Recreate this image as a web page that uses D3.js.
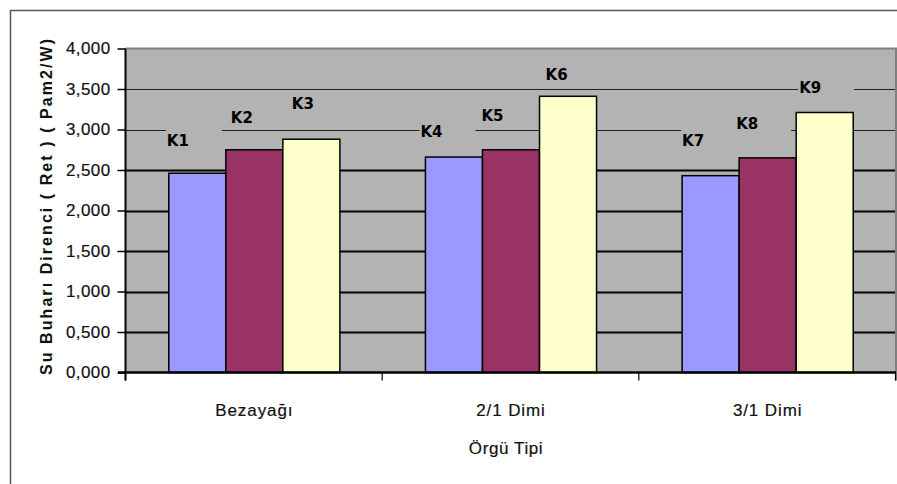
<!DOCTYPE html>
<html>
<head>
<meta charset="utf-8">
<script src="https://cdn.jsdelivr.net/npm/d3@7"></script>
<style>
  html, body { margin: 0; padding: 0; background: #fff; }
  svg { display: block; }
</style>
</head>
<body>
<svg id="chart" width="897" height="484"></svg>
<script>
// Weave types (categories) and their three fabric samples each
const categories = ["Bezayağı", "2/1 Dimi", "3/1 Dimi"];
const seriesNames = ["A", "B", "C"];
const sampleLabels = [
  ["K1", "K2", "K3"],
  ["K4", "K5", "K6"],
  ["K7", "K8", "K9"]
];
// Water vapour resistance (Ret), Pa·m²/W
const seriesA = [2.46, 2.66, 2.43];
const seriesB = [2.75, 2.75, 2.65];
const seriesC = [2.88, 3.41, 3.21];
const yTicks = [0, 0.5, 1, 1.5, 2, 2.5, 3, 3.5, 4];
const yTitle = "Su Buharı Direnci ( Ret ) ( Pam2/W)";
const xTitle = "Örgü Tipi";

// hand-placed label nudges [dx from bar left, dy above bar top], px
const labelNudge = [
  [[-2, 33], [5, 32], [9, 36]],
  [[-5, 25], [-1, 34], [6, 22]],
  [[0, 35], [-3, 34], [3, 25]]
];

const colors = ["#9999FF", "#993366", "#FFFFCC"];
const plotBg = "#B3B3B3";

const svg = d3.select("#chart");
const W = 897, H = 484;
const plot = { left: 126, right: 896, top: 48.5, bottom: 372.5 };

// outer chart frame
svg.append("rect")
  .attr("x", 10.5).attr("y", 10.5)
  .attr("width", W + 20).attr("height", H + 20)
  .attr("fill", "#fff").attr("stroke", "#555").attr("stroke-width", 1.5);

const x0 = d3.scaleBand().domain(categories).range([plot.left, plot.right]).padding(0);
const bw = x0.bandwidth() / 4.5;          // three bars plus a 150% gap
const x1 = d3.scaleBand().domain(seriesNames)
  .range([0.75 * bw, 3.75 * bw]).padding(0);
const y = d3.scaleLinear().domain([0, 4]).range([plot.bottom, plot.top]);

// plot area background
svg.append("rect")
  .attr("x", plot.left).attr("y", plot.top)
  .attr("width", plot.right - plot.left).attr("height", plot.bottom - plot.top)
  .attr("fill", plotBg);

// gridlines
svg.append("g").selectAll("line")
  .data(yTicks.filter(d => d > 0 && d < 4))
  .join("line")
  .attr("x1", plot.left).attr("x2", plot.right)
  .attr("y1", d => Math.round(y(d)) + 0.5).attr("y2", d => Math.round(y(d)) + 0.5)
  .attr("stroke", d => d > 2.5 ? "#222" : "#000")
  .attr("stroke-width", d => d > 2.5 ? 1.2 : 2);

// plot top and right border
svg.append("path")
  .attr("d", `M${plot.left},${plot.top}H${plot.right}V${plot.bottom + 8}`)
  .attr("fill", "none").attr("stroke", "#808080").attr("stroke-width", 2);

// bars
const rows = categories.map((c, i) => ({
  cat: c,
  vals: [seriesA[i], seriesB[i], seriesC[i]]
}));

const groups = svg.append("g").selectAll("g")
  .data(rows).join("g")
  .attr("transform", d => `translate(${x0(d.cat)},0)`);

groups.selectAll("rect")
  .data(d => d.vals.map((v, j) => ({ v, j })))
  .join("rect")
  .attr("x", d => x1(seriesNames[d.j]))
  .attr("y", d => y(d.v))
  .attr("width", x1.bandwidth())
  .attr("height", d => y(0) - y(d.v))
  .attr("fill", d => colors[d.j])
  .attr("stroke", "#000").attr("stroke-width", 1.5);

// sample labels with backgrounds that mask gridlines
const labG = svg.append("g");
rows.forEach((r, i) => {
  r.vals.forEach((v, j) => {
    const bx = x0(r.cat) + x1(seriesNames[j]) + labelNudge[i][j][0];
    const cy = y(v) - labelNudge[i][j][1];
    labG.append("rect")
      .attr("x", bx - 1).attr("y", cy - 12)
      .attr("width", 56).attr("height", 24)
      .attr("fill", plotBg);
    labG.append("text")
      .attr("x", bx).attr("y", cy)
      .attr("dy", "0.36em")
      .attr("font-family", "DejaVu Sans, Verdana, sans-serif")
      .attr("font-weight", "bold").attr("font-size", 15)
      .attr("fill", "#000")
      .text(sampleLabels[i][j]);
  });
});

const textStyle = sel => sel
  .attr("font-family", "Liberation Sans, Arial, sans-serif")
  .attr("fill", "#111")
  .attr("stroke", "#111").attr("stroke-width", 0.2);

// y axis
const trFmt = d3.formatLocale({ decimal: ",", thousands: ".", grouping: [3], currency: ["", ""] }).format(".3f");
const yAxis = svg.append("g")
  .attr("transform", `translate(${plot.left - 0.5},0)`)
  .call(d3.axisLeft(y).tickValues(yTicks).tickFormat(trFmt).tickSize(8).tickSizeOuter(0).tickPadding(7));
yAxis.select(".domain").attr("stroke", "#000").attr("stroke-width", 2)
  .attr("d", `M0,${plot.top}V${plot.bottom + 8}`);
yAxis.selectAll(".tick line").attr("stroke", "#000").attr("stroke-width", 1.5);
yAxis.selectAll(".tick text")
  .call(textStyle)
  .attr("font-size", 17).attr("letter-spacing", "0.4px");

// x axis
svg.append("line")
  .attr("x1", plot.left - 8).attr("x2", plot.right)
  .attr("y1", plot.bottom).attr("y2", plot.bottom)
  .attr("stroke", "#000").attr("stroke-width", 2.5);
svg.append("g").selectAll("line")
  .data(d3.range(categories.length + 1))
  .join("line")
  .attr("x1", i => plot.left + i * x0.bandwidth() - 0.5)
  .attr("x2", i => plot.left + i * x0.bandwidth() - 0.5)
  .attr("y1", plot.bottom).attr("y2", plot.bottom + 8)
  .attr("stroke", "#000").attr("stroke-width", 1.2);

svg.append("g").selectAll("text")
  .data(categories).join("text")
  .attr("x", d => x0(d) + x0.bandwidth() / 2)
  .attr("y", 410)
  .attr("dy", "0.36em")
  .attr("text-anchor", "middle")
  .call(textStyle)
  .attr("font-size", 17).attr("letter-spacing", "0.9px")
  .text(d => d);

// axis titles
svg.append("text")
  .attr("x", (plot.left + plot.right) / 2 - 5).attr("y", 448)
  .attr("dy", "0.36em").attr("text-anchor", "middle")
  .call(textStyle)
  .attr("font-size", 17).attr("letter-spacing", "0.6px")
  .text(xTitle);

svg.append("text")
  .attr("transform", `translate(46,${(38 + 376) / 2}) rotate(-90)`)
  .attr("text-anchor", "middle").attr("dy", "0.36em")
  .attr("font-family", "Liberation Sans, Arial, sans-serif")
  .attr("fill", "#111")
  .attr("font-size", 16).attr("font-weight", "bold")
  .attr("textLength", 336).attr("lengthAdjust", "spacing")
  .text(yTitle);
</script>
</body>
</html>
